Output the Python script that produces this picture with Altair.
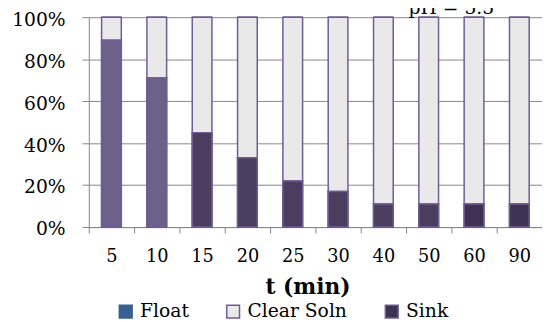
import altair as alt
import pandas as pd

# ---- data ----
t_labels = ["5", "10", "15", "20", "25", "30", "40", "50", "60", "90"]
series = ["Float", "Clear Soln", "Sink"]
float_pct = [89, 71, 45, 33, 22, 17, 11, 11, 11, 11]
clear_pct = [11, 29, 55, 67, 78, 83, 89, 89, 89, 89]
sink_pct = [0, 0, 0, 0, 0, 0, 0, 0, 0, 0]
y_ticks = [0, 20, 40, 60, 80, 100]
x_title = "t (min)"
note = "pH = 5.5"

rows = []
for i, t in enumerate(t_labels):
    for k, (s, vals) in enumerate(zip(series, [float_pct, clear_pct, sink_pct])):
        rows.append({"t": t, "series": s, "value": vals[i], "order": k})
df = pd.DataFrame(rows)

FONT = "DejaVu Serif"
GRID = "#868686"
PURPLE = "#705b96"

x_enc = alt.X(
    "t:N",
    sort=t_labels,
    scale=alt.Scale(paddingInner=0, paddingOuter=0),
    axis=alt.Axis(
        title=x_title,
        titleFont=FONT,
        titleFontSize=22,
        titleFontWeight="bold",
        titleColor="black",
        titleX=222,
        titleY=67,
        titleAlign="center",
        titleBaseline="alphabetic",
        labelAngle=0,
        labelFont=FONT,
        labelFontSize=18,
        labelColor="black",
        labelPadding=15,
        labelBaseline="top",
        tickSize=6,
        tickBand="extent",
        tickColor=GRID,
        domainColor=GRID,
        grid=False,
    ),
)

y_scale = alt.Scale(domain=[0, 100], nice=False)
y_axis = alt.Axis(
    title=None,
    values=y_ticks,
    labelExpr="datum.value + '%'",
    labelFont=FONT,
    labelFontSize=19,
    labelColor="black",
    labelPadding=17,
    labelOffset=2,
    tickSize=7,
    tickColor=GRID,
    domainColor=GRID,
    grid=True,
    gridColor=GRID,
    gridWidth=1,
)

legend = alt.Legend(
    title=None,
    orient="none",
    legendX=28,
    legendY=289,
    direction="horizontal",
    symbolType="square",
    symbolSize=169,
    symbolStrokeWidth=1.5,
    labelFont=FONT,
    labelFontSize=19,
    labelColor="black",
    labelOffset=5,
    columnPadding=35,
)

stacked = alt.Chart(df).mark_bar(size=20, strokeWidth=1.5).encode(
    x=x_enc,
    y=alt.Y("value:Q", stack="zero", scale=y_scale, axis=y_axis),
    fill=alt.Fill(
        "series:N",
        scale=alt.Scale(domain=series, range=["#376092", "#e9e9e9", "#3f3151"]),
        legend=legend,
    ),
    stroke=alt.Stroke(
        "series:N",
        scale=alt.Scale(domain=series, range=["#376092", PURPLE, PURPLE]),
        legend=legend,
    ),
    order=alt.Order("order:Q"),
)

float_overlay = (
    alt.Chart(df)
    .transform_filter("datum.series == 'Float'")
    .mark_bar(size=20, stroke=PURPLE, strokeWidth=1.5)
    .encode(
        x=alt.X("t:N", sort=t_labels),
        y=alt.Y("value:Q", stack=None),
        fill=alt.FillValue(
            "#3f3151",
            condition=[
                {"test": "indexof(['5','10'], datum.t) >= 0", "value": "#6d6089"},
                {"test": "indexof(['15','20','25','30','40','50'], datum.t) >= 0", "value": "#4a3d5e"},
            ],
        ),
    )
)

note_layer = alt.Chart(pd.DataFrame({"label": [note]})).mark_text(
    font=FONT, fontSize=19, color="black", align="center", baseline="alphabetic"
).encode(x=alt.value(368), y=alt.value(-3), text="label:N")

chart = (
    alt.layer(stacked, float_overlay, note_layer)
    .properties(
        width=460,
        height=213,
        autosize=alt.AutoSizeParams(type="none"),
        padding={"left": 82, "top": 7, "right": 0, "bottom": 94},
        background="white",
    )
    .configure_view(stroke=None)
)

chart.save("out.html", embed_options={"renderer": "svg", "actions": False})
